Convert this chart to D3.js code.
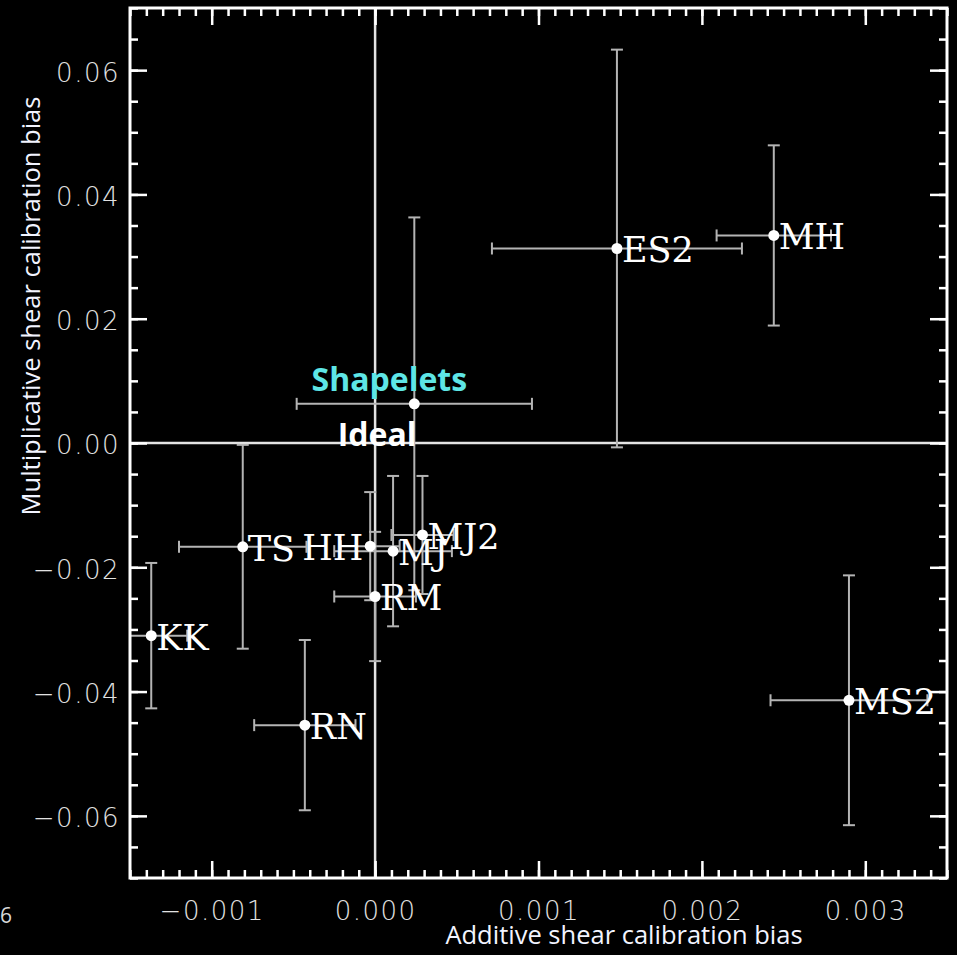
<!DOCTYPE html>
<html>
<head>
<meta charset="utf-8">
<script src="https://cdn.jsdelivr.net/npm/d3@7/dist/d3.min.js"></script>
<style>
  html, body { margin: 0; padding: 0; background: #000; }
  svg { display: block; }
</style>
</head>
<body>
<svg id="chart" width="957" height="955"></svg>
<script>
// Shear-calibration results per method: additive bias (c) vs multiplicative bias (m)
const methods  = ["ES2", "MH", "Shapelets", "TS", "HH", "MJ", "MJ2", "RM", "KK", "RN", "MS2"];
const additive = [0.00148, 0.00244, 0.00024, -0.00081, -0.00003, 0.00011, 0.00029, 0.00000, -0.00137, -0.00043, 0.00290];
const multiplicative = [0.0313, 0.0334, 0.0063, -0.0167, -0.0166, -0.0174, -0.0148, -0.0247, -0.0310, -0.0454, -0.0414];
const additiveErr = [0.000765, 0.00035, 0.00072, 0.00039, 0.00018, 0.00036, 0.00019, 0.00025, 0.00022, 0.00031, 0.00048];
const multiplicativeErr = [0.0320, 0.0145, 0.0300, 0.0164, 0.0087, 0.0121, 0.0095, 0.0104, 0.0117, 0.0137, 0.0201];
// labels drawn to the left of their point
const leftLabels = ["HH"];

const xMajorTicks = [-0.001, 0.000, 0.001, 0.002, 0.003];
const yMajorTicks = [-0.06, -0.04, -0.02, 0.00, 0.02, 0.04, 0.06];

const points = methods.map((name, i) => ({
  name, x: additive[i], y: multiplicative[i], dx: additiveErr[i], dy: multiplicativeErr[i]
}));

const svg = d3.select("#chart");
const L = 130, R = 947, T = 8, B = 878;

const x = d3.scaleLinear().domain([-0.0015, 0.0035]).range([L, R]);
const y = d3.scaleLinear().domain([-0.07, 0.07]).range([B, T]);

const xMinor = d3.range(-15, 36).map(k => k / 10000);
const yMinor = d3.range(-14, 15).map(k => k / 200);

svg.append("rect").attr("width", 957).attr("height", 955).attr("fill", "#000");

svg.append("defs").append("clipPath").attr("id", "plot")
  .append("rect").attr("x", L).attr("y", T).attr("width", R - L).attr("height", B - T);

// zero reference lines
const ref = svg.append("g").attr("stroke", "#e4e4e4").attr("stroke-width", 2.5);
ref.append("line").attr("x1", x(0)).attr("x2", x(0)).attr("y1", T).attr("y2", B);
ref.append("line").attr("x1", L).attr("x2", R).attr("y1", y(0)).attr("y2", y(0));

// error bars
const cap = 6;
const bars = svg.append("g").attr("clip-path", "url(#plot)")
  .attr("stroke", "#b4b4b4").attr("stroke-width", 2).attr("fill", "none");
const eb = bars.selectAll("g").data(points).join("g");
eb.append("line")
  .attr("x1", d => x(d.x - d.dx)).attr("x2", d => x(d.x + d.dx))
  .attr("y1", d => y(d.y)).attr("y2", d => y(d.y));
eb.append("line")
  .attr("x1", d => x(d.x)).attr("x2", d => x(d.x))
  .attr("y1", d => y(d.y - d.dy)).attr("y2", d => y(d.y + d.dy));
eb.selectAll("line.hc").data(d => [[d.x - d.dx, d.y], [d.x + d.dx, d.y]]).join("line")
  .attr("class", "hc")
  .attr("x1", d => x(d[0])).attr("x2", d => x(d[0]))
  .attr("y1", d => y(d[1]) - cap).attr("y2", d => y(d[1]) + cap);
eb.selectAll("line.vc").data(d => [[d.x, d.y - d.dy], [d.x, d.y + d.dy]]).join("line")
  .attr("class", "vc")
  .attr("x1", d => x(d[0]) - cap).attr("x2", d => x(d[0]) + cap)
  .attr("y1", d => y(d[1])).attr("y2", d => y(d[1]));

// points
svg.append("g").selectAll("circle").data(points).join("circle")
  .attr("cx", d => x(d.x)).attr("cy", d => y(d.y)).attr("r", 5.5).attr("fill", "#fff");

// method labels
svg.append("g").selectAll("text")
  .data(points.filter(d => d.name !== "Shapelets")).join("text")
  .attr("x", d => leftLabels.includes(d.name) ? x(d.x) - 7 : x(d.x) + 5)
  .attr("y", d => y(d.y) + 14)
  .attr("text-anchor", d => leftLabels.includes(d.name) ? "end" : "start")
  .attr("font-family", "'DejaVu Serif', 'Liberation Serif', serif")
  .attr("font-size", 35)
  .attr("fill", "#fff")
  .text(d => d.name);

const shp = points.find(d => d.name === "Shapelets");
svg.append("text")
  .attr("x", x(shp.x) - 25).attr("y", y(shp.y) - 13)
  .attr("text-anchor", "middle")
  .attr("font-family", "'Open Sans', sans-serif").attr("font-weight", 700)
  .attr("font-size", 32).attr("fill", "#5ee6e6")
  .text("Shapelets");
svg.append("text")
  .attr("x", x(0) + 2).attr("y", y(0) + 3)
  .attr("text-anchor", "middle")
  .attr("font-family", "'Open Sans', sans-serif").attr("font-weight", 700)
  .attr("font-size", 32).attr("fill", "#fff")
  .text("Ideal");

// axes with inward ticks on all four sides
function styleAxis(g) {
  g.select(".domain").remove();
  g.selectAll("line").attr("stroke", "#fff").attr("stroke-width", 2.5);
  g.selectAll("text")
    .attr("fill", "#e2e2e2")
    .attr("font-family", "'DejaVu Sans', sans-serif")
    .attr("font-weight", 200)
    .attr("font-size", 26)
    .attr("letter-spacing", 1.5);
}
const fx = d3.format(".3f"), fy = d3.format(".2f");

svg.append("g").attr("transform", `translate(0,${B})`)
  .call(d3.axisBottom(x).tickValues(xMinor).tickSize(-8).tickFormat("")).call(styleAxis);
svg.append("g").attr("transform", `translate(0,${B})`)
  .call(d3.axisBottom(x).tickValues(xMajorTicks).tickSize(-17).tickPadding(24).tickFormat(fx)).call(styleAxis);
svg.append("g").attr("transform", `translate(0,${T})`)
  .call(d3.axisTop(x).tickValues(xMinor).tickSize(-8).tickFormat("")).call(styleAxis);
svg.append("g").attr("transform", `translate(0,${T})`)
  .call(d3.axisTop(x).tickValues(xMajorTicks).tickSize(-17).tickFormat("")).call(styleAxis);

svg.append("g").attr("transform", `translate(${L},0)`)
  .call(d3.axisLeft(y).tickValues(yMinor).tickSize(-8).tickFormat("")).call(styleAxis);
svg.append("g").attr("transform", `translate(${L},0)`)
  .call(d3.axisLeft(y).tickValues(yMajorTicks).tickSize(-17).tickPadding(10).tickFormat(fy)).call(styleAxis)
  .selectAll("text").attr("dy", "0.42em");
svg.append("g").attr("transform", `translate(${R},0)`)
  .call(d3.axisRight(y).tickValues(yMinor).tickSize(-8).tickFormat("")).call(styleAxis);
svg.append("g").attr("transform", `translate(${R},0)`)
  .call(d3.axisRight(y).tickValues(yMajorTicks).tickSize(-17).tickFormat("")).call(styleAxis);

// frame
svg.append("rect").attr("x", L).attr("y", T).attr("width", R - L).attr("height", B - T)
  .attr("fill", "none").attr("stroke", "#fff").attr("stroke-width", 3);

// axis titles
svg.append("text")
  .attr("x", 624).attr("y", 944).attr("text-anchor", "middle")
  .attr("font-family", "'Open Sans', sans-serif").attr("font-size", 25.5)
  .attr("fill", "#f2f4ff")
  .text("Additive shear calibration bias");
svg.append("text")
  .attr("transform", "translate(40,306) rotate(-90)").attr("text-anchor", "middle")
  .attr("font-family", "'Open Sans', sans-serif").attr("font-size", 25.5)
  .attr("fill", "#f2f4ff")
  .text("Multiplicative shear calibration bias");

// slide number
svg.append("text").attr("x", 0).attr("y", 923)
  .attr("font-family", "'Open Sans', sans-serif").attr("font-size", 21)
  .attr("fill", "#d8d8d8").text("6");
</script>
</body>
</html>
